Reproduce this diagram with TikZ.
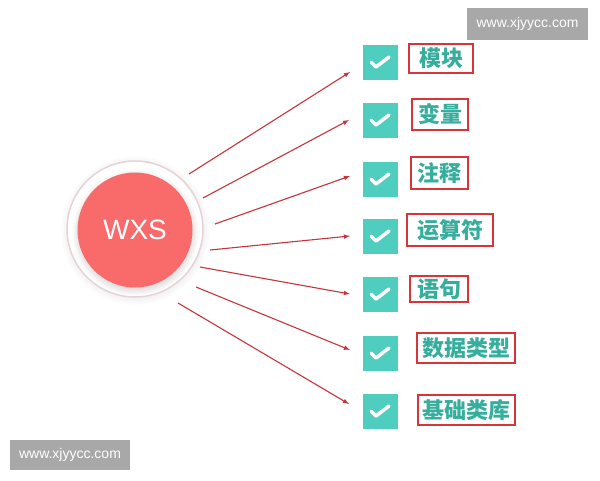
\documentclass[tikz,border=0pt]{standalone}
\usepackage{fontspec}
\setmainfont{Liberation Sans}
\newfontfamily\cjk{Noto Sans CJK SC}
\usetikzlibrary{shadows,calc}
\definecolor{wxsred}{HTML}{F96B6B}
\definecolor{ringgray}{HTML}{E6D3D6}
\definecolor{ticky}{HTML}{4FCDBF}
\definecolor{labeltext}{HTML}{36AE9E}
\definecolor{framered}{HTML}{D8353B}
\definecolor{arrowred}{HTML}{C6353B}
\definecolor{wmgray}{HTML}{A8A8A8}

\begin{document}
\begin{tikzpicture}[x=1pt, y=-1pt,
	tickbox/.style={fill=ticky, minimum size=35pt, inner sep=0pt,
		path picture={
			\draw[white, line width=3.5pt, line cap=round, line join=round]
				($(path picture bounding box.center)+(-9,0)$) -- ++(5,5) -- ++(13,-10);
		}},
	topic/.style={draw=framered, line width=1.1pt, text=labeltext, inner sep=0pt,
		font=\cjk\bfseries\fontsize{22pt}{22pt}\selectfont},
	link/.style={draw=arrowred, line width=1.1pt, -latex},
	sitemark/.style={fill=wmgray, text=white, inner sep=0pt,
		font=\fontsize{14pt}{14pt}\selectfont}]
		\useasboundingbox[fill=white] (0,0) rectangle (600,480);
		\node[circle, draw=ringgray, line width=1.5pt, fill=white, minimum size=136pt,
			circular drop shadow={opacity=0.15, shadow xshift=0pt, shadow yshift=-1pt}] (ring) at (135,229) {};
		\node[circle, fill=wxsred, minimum size=115pt, text=white,
			font=\fontsize{28pt}{28pt}\selectfont,
			circular drop shadow={opacity=0.3, shadow xshift=0pt, shadow yshift=-2pt}] (WXS) at (135,230) {
			WXS
		};
		\node[tickbox] (t1) at (380,62) {};
		\node[tickbox] (t2) at (380,120) {};
		\node[tickbox] (t3) at (380,179) {};
		\node[tickbox] (t4) at (380,236) {};
		\node[tickbox] (t5) at (380,294) {};
		\node[tickbox] (t6) at (380,353) {};
		\node[tickbox] (t7) at (380,411) {};
		\node[topic, minimum width=64pt, minimum height=29pt] (module) at (441,58.5) {模块};
		\node[topic, minimum width=56pt, minimum height=31pt] (variable) at (440,114.5) {变量};
		\node[topic, minimum width=57pt, minimum height=32pt] (comment) at (439.5,173) {注释};
		\node[topic, minimum width=86pt, minimum height=32pt] (operator) at (450,230) {运算符};
		\node[topic, minimum width=58pt, minimum height=26pt] (statement) at (439,289) {语句};
		\node[topic, minimum width=98pt, minimum height=30pt] (datatype) at (466,348) {数据类型};
		\node[topic, minimum width=97pt, minimum height=30pt] (library) at (466.5,410) {基础类库};
		\coordinate (s1) at (189,174);
		\coordinate (s2) at (203,198);
		\coordinate (s3) at (215,224);
		\coordinate (s4) at (210,250);
		\coordinate (s5) at (200,267);
		\coordinate (s6) at (196,287);
		\coordinate (s7) at (178,303);
		\coordinate (e1) at (350,72);
		\coordinate (e2) at (349,120);
		\coordinate (e3) at (350,176);
		\coordinate (e4) at (350,236);
		\coordinate (e5) at (350,294);
		\coordinate (e6) at (350,350);
		\coordinate (e7) at (349,404);
		\draw[link] (s1) -- (e1);
		\draw[link] (s2) -- (e2);
		\draw[link] (s3) -- (e3);
		\draw[link] (s4) -- (e4);
		\draw[link] (s5) -- (e5);
		\draw[link] (s6) -- (e6);
		\draw[link] (s7) -- (e7);
		\node[sitemark, minimum width=121pt, minimum height=32pt] (site1) at (527.5,24) {www.xjyycc.com};
		\node[sitemark, minimum width=120pt, minimum height=30pt] (site2) at (70,455) {www.xjyycc.com};
\end{tikzpicture}
\end{document}
